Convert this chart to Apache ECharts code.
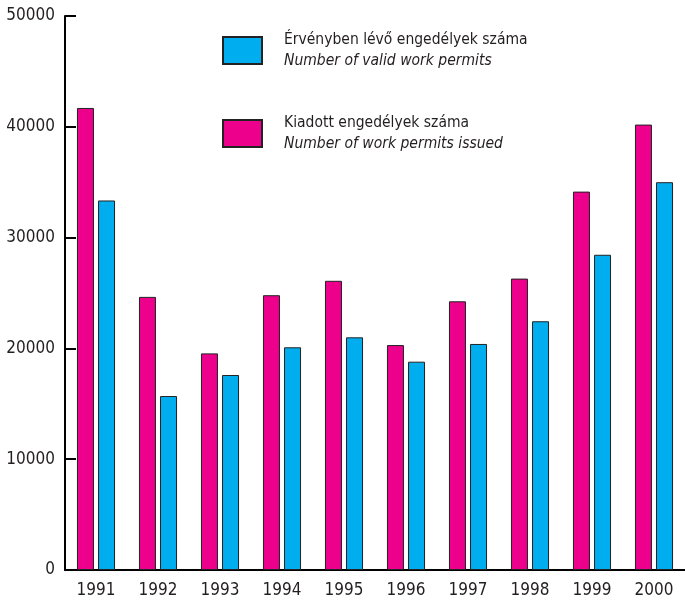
<!DOCTYPE html>
<html lang="hu">
<head>
    <meta charset="utf-8">
    <title>Munkavállalási engedélyek</title>
    <script src="https://cdn.jsdelivr.net/npm/echarts@6/dist/echarts.min.js"></script>
    <style>
        html, body { margin: 0; padding: 0; background: #fff; }
        #chart { width: 685px; height: 603px; }
    </style>
</head>
<body>
<div id="chart"></div>
<script>
    var years = ['1991', '1992', '1993', '1994', '1995', '1996', '1997', '1998', '1999', '2000'];
    // kiadott engedélyek (pink)
    var issued = [41700, 24650, 19550, 24800, 26100, 20300, 24250, 26300, 34150, 40200];
    // érvényben lévő engedélyek (blue)
    var valid = [33350, 15700, 17600, 20100, 21000, 18800, 20400, 22450, 28450, 35000];
    var yTicks = [0, 10000, 20000, 30000, 40000, 50000];

    var nameValid = 'Érvényben lévő engedélyek száma';
    var nameIssued = 'Kiadott engedélyek száma';
    var enNames = {};
    enNames[nameValid] = 'Number of valid work permits';
    enNames[nameIssued] = 'Number of work permits issued';

    var font = '"DejaVu Sans", sans-serif';
    var stretch = 'condensed';   // goes into the canvas font shorthand
    var ink = '#231f20';

    function legendFor(name, top) {
        return {
            data: [name],
            icon: 'rect',
            left: 222,
            top: top,
            padding: 0,
            itemWidth: 39,
            itemHeight: 27,
            selectedMode: false,
            formatter: function (n) {
                return '{a|' + n + '}\n{b|' + enNames[n] + '}';
            },
            textStyle: {
                rich: {
                    a: { fontFamily: font, fontWeight: stretch, fontSize: 15.5, color: ink, lineHeight: 21, padding: [0, 0, 0, 17] },
                    b: { fontFamily: font, fontWeight: stretch, fontSize: 15.5, fontStyle: 'italic', color: ink, lineHeight: 21, padding: [0, 0, 0, 17] }
                }
            }
        };
    }

    var chart = echarts.init(document.getElementById('chart'));
    chart.setOption({
        animation: false,
        legend: [legendFor(nameValid, 32), legendFor(nameIssued, 115)],
        grid: { left: 65, top: 16, width: 621, bottom: 33, containLabel: false },
        xAxis: {
            type: 'category',
            data: years,
            axisLine: { lineStyle: { color: '#000', width: 2 } },
            axisTick: { inside: true, length: 14, lineStyle: { color: '#000', width: 2 } },
            axisLabel: { fontFamily: font, fontWeight: stretch, fontSize: 17, color: ink, margin: 12 }
        },
        yAxis: {
            type: 'value',
            min: yTicks[0],
            max: yTicks[yTicks.length - 1],
            interval: 10000,
            splitLine: { show: false },
            axisLine: { show: true, lineStyle: { color: '#000', width: 2 } },
            axisTick: { show: true, inside: true, length: 11, lineStyle: { color: '#000', width: 2 } },
            axisLabel: {
                fontFamily: font, fontWeight: stretch, fontSize: 17, color: ink, margin: 10,
                formatter: function (v) { return String(v); }
            }
        },
        series: [
            {
                name: nameIssued,
                type: 'bar',
                data: issued,
                barWidth: 17,
                barGap: '24%',
                itemStyle: { color: '#ec008c', borderColor: '#222', borderWidth: 1 }
            },
            {
                name: nameValid,
                type: 'bar',
                data: valid,
                barWidth: 17,
                barGap: '24%',
                itemStyle: { color: '#00aeef', borderColor: '#222', borderWidth: 1 }
            }
        ]
    });
</script>
</body>
</html>
